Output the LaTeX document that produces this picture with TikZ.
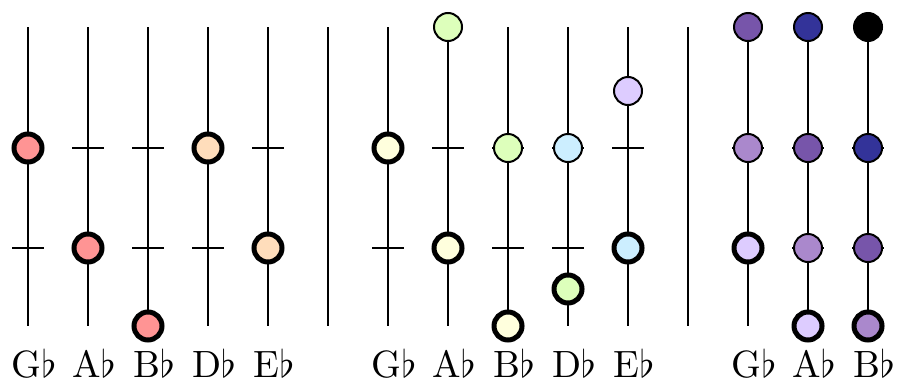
\documentclass[tikz,border=0pt]{standalone}
\usetikzlibrary{positioning}
\definecolor{notered}{HTML}{FF9494}
\definecolor{notepeach}{HTML}{FFDDBB}
\definecolor{noteyellow}{HTML}{FFFFDD}
\definecolor{notegreen}{HTML}{DDFFBB}
\definecolor{noteblue}{HTML}{CCEEFF}
\definecolor{notelav}{HTML}{DDCCFF}
\definecolor{notelilac}{HTML}{AA88CC}
\definecolor{notepurple}{HTML}{7755AA}
\definecolor{notenavy}{HTML}{333399}
\tikzset{note/.style={circle, draw, inner sep=0pt, minimum size=14pt, line width=1pt},
         root/.style={note, line width=2.5pt},
         notename/.style={anchor=base, scale=1.9, transform shape}}

\begin{document}
\begin{tikzpicture}[x=30pt, y=50pt, line width=1pt]
    \useasboundingbox (-0.4667,-0.39) rectangle (14.4833,3.48);

    % strings and frets
    \foreach \i in {0,...,14} {
      \coordinate (top\i) at (\i,3.21);
      \coordinate (bot\i) at (\i,0.22);
      \draw (top\i) -- (bot\i);
    }
    \foreach \i in {0,1,2,3,4,6,7,8,9,10,12,13,14}
      \foreach \y in {1,2}
        \draw (\i-0.2667,\y) -- (\i+0.2667,\y);

    % first group
    \node[root, fill=notered] (a0) at (0,2) {};
    \node[root, fill=notered] (a1) at (1,1) {};
    \node[root, fill=notered] (a2) at (2,0.22) {};
    \node[root, fill=notepeach] (a3) at (3,2) {};
    \node[root, fill=notepeach] (a4) at (4,1) {};

    % second group
    \node[root, fill=noteyellow] (b6) at (6,2) {};
    \node[note, fill=notegreen] (c7) at (7,3.21) {};
    \node[root, fill=noteyellow] (b7) at (7,1) {};
    \node[note, fill=notegreen] (c8) at (8,2) {};
    \node[root, fill=noteyellow] (b8) at (8,0.22) {};
    \node[note, fill=noteblue] (c9) at (9,2) {};
    \node[root, fill=notegreen] (b9) at (9,0.59) {};
    \node[note, fill=notelav] (c10) at (10,2.57) {};
    \node[root, fill=noteblue] (b10) at (10,1) {};

    % third group
    \node[note, fill=notepurple] (d12) at (12,3.21) {};
    \node[note, fill=notelilac] (e12) at (12,2) {};
    \node[root, fill=notelav] (f12) at (12,1) {};
    \node[note, fill=notenavy] (d13) at (13,3.21) {};
    \node[note, fill=notepurple] (e13) at (13,2) {};
    \node[note, fill=notelilac] (f13) at (13,1) {};
    \node[root, fill=notelav] (g13) at (13,0.22) {};
    \node[note, fill=black] (d14) at (14,3.21) {};
    \node[note, fill=notenavy] (e14) at (14,2) {};
    \node[note, fill=notepurple] (f14) at (14,1) {};
    \node[root, fill=notelilac] (g14) at (14,0.22) {};

    % names
    \foreach \i/\t in {0/G,1/A,2/B,3/D,4/E,6/G,7/A,8/B,9/D,10/E,12/G,13/A,14/B}
      \node[notename] (lab\i) at (\i+0.1,-0.29) {\t$\flat$};
\end{tikzpicture}
\end{document}
